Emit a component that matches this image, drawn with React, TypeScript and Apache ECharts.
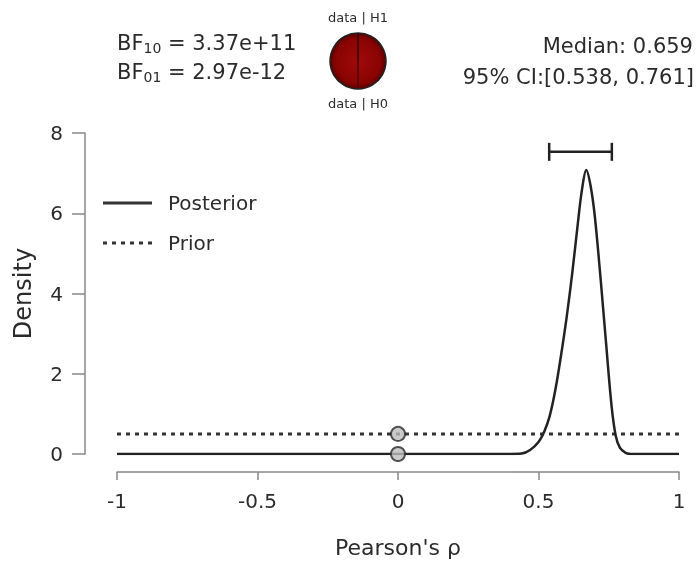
import React, { useEffect, useRef } from "react";
import * as echarts from "echarts";

const xTicks = [-1, -0.5, 0, 0.5, 1];
const yTicks = [0, 2, 4, 6, 8];
const posteriorX = [-1, 0.4, 0.44, 0.47, 0.5, 0.52, 0.54, 0.56, 0.58, 0.6, 0.62, 0.64, 0.655, 0.67, 0.685, 0.7, 0.72, 0.74, 0.76, 0.775, 0.79, 0.81, 0.83, 1];
const posteriorY = [0, 0, 0.01, 0.1, 0.3, 0.55, 0.95, 1.6, 2.45, 3.4, 4.5, 5.75, 6.6, 7.08, 6.7, 5.95, 4.45, 2.8, 1.2, 0.45, 0.15, 0.03, 0, 0];
const priorX = [-1, 1];
const priorY = [0.5, 0.5];
const pointX = [0, 0];
const pointY = [0.5, 0];
const ciLower = 0.538;
const ciUpper = 0.761;
const ciY = 7.53;
const bf10 = "3.37e+11";
const bf01 = "2.97e-12";
const bf10Num = 3.37e11;
const medianText = "Median: 0.659";
const ciText = "95% CI:[0.538, 0.761]";

export default function App() {
  const ref = useRef<HTMLDivElement>(null);
  useEffect(() => {
    if (!ref.current) return;
    const chart = echarts.init(ref.current, null, { renderer: "svg" });
    const font = "DejaVu Sans, Liberation Sans, sans-serif";
    const txt = "#2b2b2b";
    const rich = {
      a: { fontSize: 21, fill: txt, color: txt, fontFamily: font },
      s: { fontSize: 14, fill: txt, color: txt, fontFamily: font, padding: [9, 0, 0, 0] },
    };
    chart.setOption({
      animation: false,
      textStyle: { fontFamily: font },
      grid: { left: 117, right: 17, top: 133, bottom: 113 },
      xAxis: {
        type: "value",
        min: -1,
        max: 1,
        interval: 0.5,
        offset: 18,
        axisLine: { show: true, onZero: false, lineStyle: { color: "#888", width: 1.5 } },
        axisTick: { show: true, length: 8, lineStyle: { color: "#888", width: 1.5 } },
        axisLabel: {
          fontSize: 20,
          color: txt,
          margin: 19,
          formatter: (v: number) => (xTicks.includes(v) ? String(v) : ""),
        },
        splitLine: { show: false },
        name: "Pearson's ρ",
        nameLocation: "middle",
        nameGap: 64,
        nameTextStyle: { fontSize: 22, color: txt },
      },
      yAxis: {
        type: "value",
        min: 0,
        max: 8,
        interval: 2,
        offset: 32,
        axisLine: { show: true, onZero: false, lineStyle: { color: "#888", width: 1.5 } },
        axisTick: { show: true, length: 13, lineStyle: { color: "#888", width: 1.5 } },
        axisLabel: {
          fontSize: 20,
          color: txt,
          margin: 22,
          formatter: (v: number) => (yTicks.includes(v) ? String(v) : ""),
        },
        splitLine: { show: false },
        name: "Density",
        nameLocation: "middle",
        nameGap: 50,
        nameRotate: 90,
        nameTextStyle: { fontSize: 24, color: txt },
      },
      series: [
        {
          type: "line",
          data: priorX.map((x, i) => [x, priorY[i]]),
          showSymbol: false,
          lineStyle: { color: "#333", width: 3, type: [4, 5] },
          z: 2,
        },
        {
          type: "line",
          data: posteriorX.map((x, i) => [x, posteriorY[i]]),
          showSymbol: false,
          smooth: 0.35,
          lineStyle: { color: "#222", width: 2.5 },
          z: 3,
        },
        {
          type: "scatter",
          data: pointX.map((x, i) => [x, pointY[i]]),
          symbolSize: 14,
          itemStyle: { color: "#bdbdbd", borderColor: "#2b2b2b", borderWidth: 2 },
          z: 5,
        },
        {
          type: "custom",
          data: [[ciLower, ciUpper, ciY]],
          renderItem: (params: any, api: any) => {
            const a = api.coord([api.value(0), api.value(2)]);
            const b = api.coord([api.value(1), api.value(2)]);
            const h = 9;
            const st = { stroke: "#222", lineWidth: 2.5 };
            return {
              type: "group",
              children: [
                { type: "line", shape: { x1: a[0], y1: a[1], x2: b[0], y2: b[1] }, style: st },
                { type: "line", shape: { x1: a[0], y1: a[1] - h, x2: a[0], y2: a[1] + h }, style: st },
                { type: "line", shape: { x1: b[0], y1: b[1] - h, x2: b[0], y2: b[1] + h }, style: st },
              ],
            };
          },
          z: 4,
        },
        {
          type: "pie",
          center: [358, 61],
          radius: 28,
          startAngle: 90,
          label: { show: false },
          labelLine: { show: false },
          silent: true,
          data: [
            {
              value: bf10Num / (1 + bf10Num),
              itemStyle: {
                color: {
                  type: "radial",
                  x: 0.5,
                  y: 0.5,
                  r: 0.5,
                  colorStops: [
                    { offset: 0, color: "#a00a0a" },
                    { offset: 0.8, color: "#8a0303" },
                    { offset: 1, color: "#5a0000" },
                  ],
                },
                borderColor: "#222",
                borderWidth: 1.5,
              },
            },
            { value: 1 / (1 + bf10Num), itemStyle: { color: "#fff", borderColor: "#222", borderWidth: 1 } },
          ],
        },
      ],
      graphic: [
        { type: "line", shape: { x1: 358, y1: 34, x2: 358, y2: 88 }, style: { stroke: "#4a0000", lineWidth: 1.5 }, z: 100 },
        { type: "text", x: 358, y: 17, style: { text: "data | H1", fontSize: 13, fill: txt, align: "center", verticalAlign: "middle", fontFamily: font } },
        { type: "text", x: 358, y: 103, style: { text: "data | H0", fontSize: 13, fill: txt, align: "center", verticalAlign: "middle", fontFamily: font } },
        {
          type: "text",
          x: 117,
          y: 43,
          style: { text: "{a|BF}{s|10}{a| = " + bf10 + "}", verticalAlign: "middle", fontFamily: font, rich },
        },
        {
          type: "text",
          x: 117,
          y: 72,
          style: { text: "{a|BF}{s|01}{a| = " + bf01 + "}", verticalAlign: "middle", fontFamily: font, rich },
        },
        { type: "text", x: 693, y: 46, style: { text: medianText, fontSize: 21, fill: txt, align: "right", verticalAlign: "middle", fontFamily: font } },
        { type: "text", x: 694, y: 77, style: { text: ciText, fontSize: 21, fill: txt, align: "right", verticalAlign: "middle", fontFamily: font } },
        { type: "line", shape: { x1: 103, y1: 203, x2: 152, y2: 203 }, style: { stroke: "#333", lineWidth: 3 } },
        { type: "line", shape: { x1: 103, y1: 243, x2: 152, y2: 243 }, style: { stroke: "#333", lineWidth: 3, lineDash: [4, 5] } },
        { type: "text", x: 168, y: 203, style: { text: "Posterior", fontSize: 20, fill: txt, verticalAlign: "middle", fontFamily: font } },
        { type: "text", x: 168, y: 243, style: { text: "Prior", fontSize: 20, fill: txt, verticalAlign: "middle", fontFamily: font } },
      ],
    });
    return () => chart.dispose();
  }, []);
  return <div ref={ref} style={{ position: "fixed", left: 0, top: 0, width: 696, height: 567 }} />;
}
